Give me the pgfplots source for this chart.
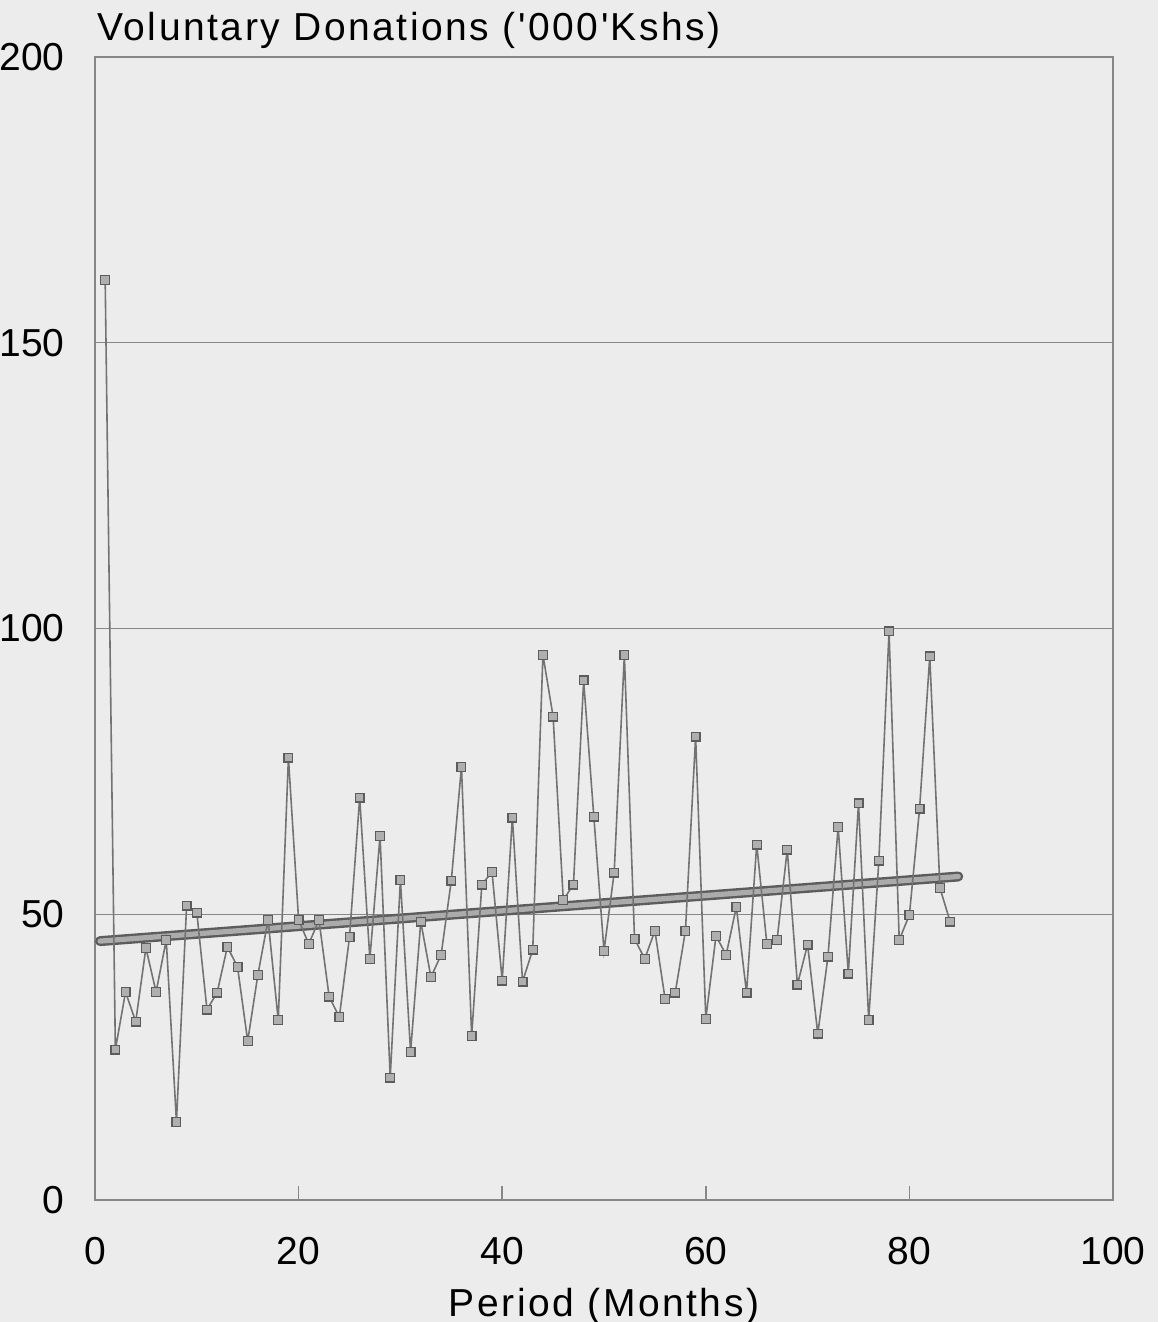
\documentclass[border=0pt]{standalone}
\usepackage{fontspec}
\setmainfont{Liberation Sans}
\newfontfamily\spacedfont[LetterSpace=6.5]{Liberation Sans}
\usepackage{pgfplots}
\pgfplotsset{compat=1.18}
\definecolor{bg}{RGB}{236,236,236}
\definecolor{ln}{RGB}{115,115,115}
\definecolor{ax}{RGB}{135,135,135}
\definecolor{mk}{RGB}{175,175,175}
\newcommand{\bigf}{\fontsize{19.5}{23}\selectfont}
\begin{document}
\begin{tikzpicture}
\fill[bg] (-47.5pt,-61pt) rectangle (531.5pt,600pt);
\begin{axis}[
  at={(0,0)}, anchor=south west,
  scale only axis, width=509pt, height=571.5pt,
  xmin=0, xmax=100, ymin=0, ymax=200,
  xtick={0,20,...,100}, ytick={0,50,...,200},
  axis line style={ax, line width=0.8pt},
  ymajorgrids, grid style={ax, line width=0.6pt},
  tick align=inside, xtick pos=bottom, ytick pos=left,
  major tick length=7pt,
  xtick style={ax, line width=0.8pt},
  ytick style={draw=none},
  /pgf/number format/assume math mode=true,
  xticklabel style={font=\bigf, inner sep=0pt, anchor=north, yshift=-18.5pt},
  yticklabel style={font=\bigf, inner sep=0pt, anchor=east, xshift=-15pt},
  xlabel={Period (Months)},
  xlabel style={at={(axis description cs:0.5,0)}, anchor=north, inner sep=0pt, yshift=-44pt, font=\spacedfont\bigf},
  clip=false,
]
% trend line
\addplot[ln!80!black, line width=5pt, line cap=round] coordinates {(0.5,45.3) (84.8,56.6)};
\addplot[ln!60!white, line width=2.6pt, line cap=round] coordinates {(0.5,45.3) (84.8,56.6)};
% monthly data
\addplot[ln, line width=0.8pt, mark=square*, mark size=2.2pt,
  mark options={fill=mk, draw=ln!80!black, line width=0.6pt}] coordinates {
(1,161) (2,26.3) (3,36.4) (4,31.2) (5,44.1) (6,36.4) (7,45.5) (8,13.7) (9,51.5) (10,50.3)
(11,33.3) (12,36.3) (13,44.3) (14,40.8) (15,27.8) (16,39.4) (17,49) (18,31.5) (19,77.4) (20,49)
(21,44.8) (22,49) (23,35.6) (24,32) (25,46) (26,70.4) (27,42.2) (28,63.7) (29,21.4) (30,56)
(31,25.9) (32,48.7) (33,39) (34,42.9) (35,55.9) (36,75.8) (37,28.7) (38,55.2) (39,57.4) (40,38.4)
(41,66.9) (42,38.2) (43,43.8) (44,95.4) (45,84.6) (46,52.5) (47,55.2) (48,90.9) (49,67.1) (50,43.6)
(51,57.3) (52,95.4) (53,45.7) (54,42.2) (55,47.1) (56,35.2) (57,36.3) (58,47.1) (59,81.1) (60,31.7)
(61,46.2) (62,42.9) (63,51.3) (64,36.3) (65,62.2) (66,44.8) (67,45.5) (68,61.3) (69,37.7) (70,44.7)
(71,29.1) (72,42.6) (73,65.3) (74,39.6) (75,69.4) (76,31.5) (77,59.4) (78,99.5) (79,45.5) (80,49.9)
(81,68.5) (82,95.1) (83,54.6) (84,48.7)
};
\node[anchor=base west, inner sep=0pt, font=\spacedfont\bigf] at (rel axis cs:0,1) [xshift=1pt, yshift=8pt] {Voluntary Donations ('000'Kshs)};
\end{axis}
\pgfresetboundingbox
\path (-47.5pt,-61pt) rectangle (531.5pt,600pt);
\end{tikzpicture}
\end{document}
